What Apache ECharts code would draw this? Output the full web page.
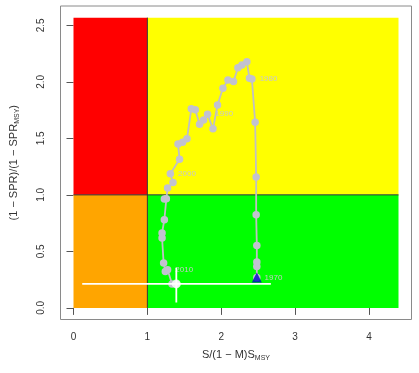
<!DOCTYPE html>
<html>
<head>
<meta charset="utf-8">
<script src="https://cdn.jsdelivr.net/npm/echarts@6/dist/echarts.min.js"></script>
<style>html,body{margin:0;padding:0;background:#fff;}#c{width:419px;height:373px;}</style>
</head>
<body>
<div id="c"></div>
<script>
// Trajectory (1970 -> latest)
var trajX = [2.482,2.482,2.482,2.482,2.473,2.473,2.459,2.415,2.382,2.347,2.280,2.226,2.166,2.091,2.023,1.950,1.888,1.815,1.761,1.707,1.649,1.595,1.536,1.477,1.415,1.436,1.311,1.347,1.274,1.257,1.230,1.230,1.199,1.199,1.220,1.243,1.274,1.334,1.392];
var trajY = [0.270,0.367,0.406,0.553,0.824,1.157,1.643,2.026,2.032,2.178,2.149,2.125,2.002,2.017,1.943,1.796,1.584,1.714,1.663,1.625,1.752,1.761,1.496,1.466,1.449,1.316,1.186,1.110,1.060,0.966,0.963,0.780,0.663,0.618,0.398,0.323,0.338,0.212,0.212];
var yearLabels = ['1970','1980','1990','2000','2010'];
var yearLabelIdx = [0,7,17,26,36];
// Final-year estimate and its interval
var finalX = 1.392, finalY = 0.212;
var ciX = [0.118, 2.672];
var ciY = [0.047, 0.356];
// Zones
var xLimitZone = 4.4, yLimitZone = 2.568;
var xTicks = [0,1,2,3,4];
var yTicks = [0,0.5,1,1.5,2,2.5];

var font = 'Liberation Sans, Arial, sans-serif';
var trajData = trajX.map(function(x,i){
  var k = yearLabelIdx.indexOf(i);
  return {value:[x,trajY[i]], label: k>=0 ? {show:true, formatter: yearLabels[k]} : {show:false}};
});

var chart = echarts.init(document.getElementById('c'), null, {renderer:'canvas'});
chart.setOption({
  animation:false,
  backgroundColor:'#fff',
  grid:{left:60,right:7.5,top:6,bottom:53.5,show:true,borderColor:'#8a8a8a',borderWidth:1,backgroundColor:'transparent'},
  xAxis:{
    type:'value', min:-0.176, max:4.576,
    axisLine:{show:false},
    splitLine:{show:false},
    axisTick:{show:true, length:7, customValues:xTicks, lineStyle:{color:'#555'}},
    axisLabel:{customValues:xTicks, margin:13, fontSize:10, color:'#333', fontFamily:font, formatter:function(v){return String(v);}},
    name:'{a|S/(1 − M)S}{s|MSY}',
    nameLocation:'middle', nameGap:28,
    nameTextStyle:{fontFamily:font, rich:{a:{fontSize:11,color:'#333',fontFamily:font},s:{fontSize:7,color:'#333',fontFamily:font,padding:[7,0,0,0]}}}
  },
  yAxis:{
    type:'value', min:-0.1027, max:2.671,
    axisLine:{show:false},
    splitLine:{show:false},
    axisTick:{show:true, length:7, customValues:yTicks, lineStyle:{color:'#555'}},
    axisLabel:{customValues:yTicks, rotate:90, margin:14, fontSize:10, color:'#333', fontFamily:font, formatter:function(v){return v.toFixed(1);}},
    name:'{a|(1 − SPR)/(1 − SPR}{s|MSY}{a|)}',
    nameLocation:'middle', nameGap:40, nameRotate:90,
    nameTextStyle:{fontFamily:font, rich:{a:{fontSize:11,color:'#333',fontFamily:font},s:{fontSize:7,color:'#333',fontFamily:font,padding:[7,0,0,0]}}}
  },
  series:[
    {
      type:'line', data:[], z:1, silent:true,
      markArea:{silent:true, itemStyle:{opacity:1}, data:[
        [{coord:[0,0],itemStyle:{color:'#FFA500'}},{coord:[1,1]}],
        [{coord:[0,1],itemStyle:{color:'#FF0000'}},{coord:[1,yLimitZone]}],
        [{coord:[1,1],itemStyle:{color:'#FFFF00'}},{coord:[xLimitZone,yLimitZone]}],
        [{coord:[1,0],itemStyle:{color:'#00FF00'}},{coord:[xLimitZone,1]}]
      ]}
    },
    {
      type:'line', z:2, silent:true, symbol:'none',
      lineStyle:{color:'#333',width:1}, data:[[1,0],[1,yLimitZone]]
    },
    {
      type:'line', z:2, silent:true, symbol:'none',
      lineStyle:{color:'#333',width:1}, data:[[0,1],[xLimitZone,1]]
    },
    {
      type:'line', z:3, silent:true, symbol:'circle', symbolSize:7.5,
      lineStyle:{color:'#C0C0C4',width:1.8},
      itemStyle:{color:'#C2C2D0'},
      label:{position:'right', distance:4, fontSize:8, color:'#C8C8C8', fontFamily:font},
      data:trajData
    },
    {
      type:'line', z:4, silent:true, symbol:'none',
      lineStyle:{color:'#ffffff',width:1.8}, data:[[ciX[0],finalY],[ciX[1],finalY]]
    },
    {
      type:'line', z:4, silent:true, symbol:'none',
      lineStyle:{color:'#ffffff',width:1.8}, data:[[finalX,ciY[0]],[finalX,ciY[1]]]
    },
    {
      type:'scatter', z:5, silent:true, symbol:'circle', symbolSize:9,
      itemStyle:{color:'#ffffff'}, data:[[finalX,finalY]]
    },
    {
      type:'scatter', z:5, silent:true, symbol:'triangle', symbolSize:10,
      itemStyle:{color:'#0000CD'}, data:[[trajX[0],trajY[0]]]
    }
  ]
});
</script>
</body>
</html>
